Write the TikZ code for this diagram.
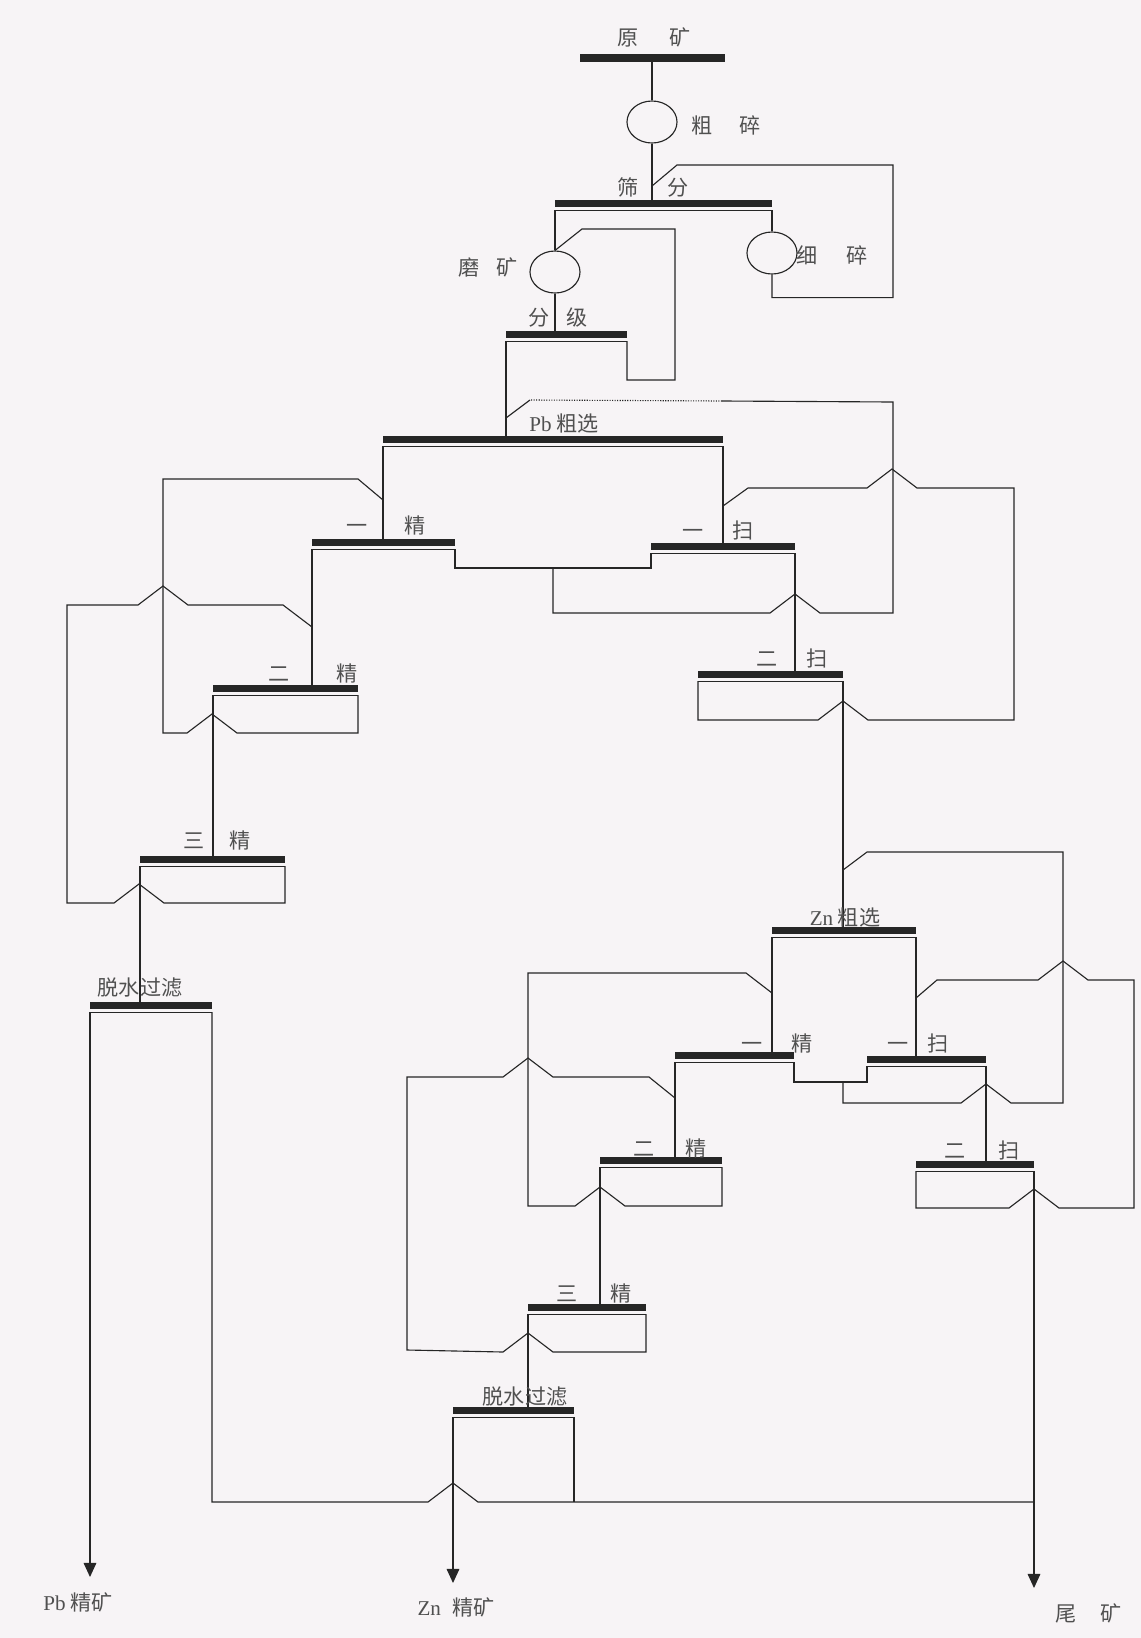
\documentclass[tikz,border=0pt]{standalone}
\usepackage{fontspec}
\setmainfont{Liberation Serif}
\newfontfamily\cjk{Noto Sans CJK SC}
\usetikzlibrary{arrows.meta,shapes.geometric}
\definecolor{paper}{RGB}{247,244,246}
\definecolor{ink}{RGB}{38,38,38}
\definecolor{txt}{RGB}{80,80,80}

\begin{document}
\begin{tikzpicture}[x=0.025cm,y=-0.025cm,line width=0.8pt,ink,
  lbl/.style={font=\cjk\fontsize{15}{17}\selectfont,text=txt,inner sep=0pt},
  mill/.style={draw,ellipse,minimum width=1.25cm,minimum height=1.05cm,inner sep=0pt},
  flow/.style={-{Triangle[width=9pt,length=10pt]}},
  hop/.style={insert path={-- ++(25,-19) -- ++(25,19)}},
  hopl/.style={insert path={-- ++(-25,-19) -- ++(-25,19)}},
  cellbar/.style={fill=ink,draw=none}]

  % Page
  \fill[paper] (0,0) rectangle (1141,1638);
  \useasboundingbox (0,0) rectangle (1141,1638);

  % Ore bin
  \fill[cellbar] (580,54) rectangle (725,62);
  \coordinate (ore-b) at (652,62);

  % Bars: name/left/right/top
  \foreach \n/\xa/\xb/\y in {scr/555/772/200, cls/506/627/331,
      pbr/383/723/436, pc1/312/455/539, ps1/651/795/543,
      pc2/213/358/685, ps2/698/843/671, pc3/140/285/856, pdw/90/212/1002,
      zr/772/916/927, zc1/675/794/1052, zs1/867/986/1056,
      zc2/600/722/1157, zs2/916/1034/1161, zc3/528/646/1304, zdw/453/574/1407}{
    \fill[cellbar] (\xa,\y) rectangle (\xb,\y+7);
    \draw[line width=0.6pt] (\xa,\y+10) -- (\xb,\y+10);
    \coordinate (\n-l) at (\xa,\y+10);
    \coordinate (\n-r) at (\xb,\y+10);
    \coordinate (\n-t) at (\xa,\y);
  }

  % Crushers and mill
  \node[mill] (cc) at (652,122) {};
  \node[mill] (fc) at (772,253) {};
  \node[mill] (gm) at (555,272) {};

  % Junctions
  \coordinate (pfeed) at (506,418);
  \coordinate (j1) at (553,568);
  \coordinate (pc1feed) at (383,500);
  \coordinate (pc2feed) at (312,627);
  \coordinate (ps1feed) at (723,506);
  \coordinate (zfeed) at (843,870);
  \coordinate (zj) at (843,1082);
  \coordinate (zc1feed) at (772,993);
  \coordinate (zs1feed) at (916,998);
  \coordinate (zc2feed) at (675,1098);
  \coordinate (tl) at (1034,1502);
  \coordinate (pb-end) at (90,1577);
  \coordinate (zn-end) at (453,1583);
  \coordinate (tl-end) at (1034,1588);

  % Crushing and grinding
  \draw (ore-b) -- (cc.north);
  \draw (cc.south) -- (cc.south |- scr-t);
  \draw (scr-r) -- (fc.north);
  \draw (fc.south) -- ++(0,23) -| (893,165) -- (677,165) -- (652,186);
  \draw (scr-l) -- (gm.north);
  \draw (gm.south) -- (gm.south |- cls-t);
  \draw (cls-r) -- (627,380) -- (675,380) -- (675,229) -- (582,229) -- (gm.north);
  \draw (cls-l) -- (cls-l |- pbr-t);

  % Pb rougher
  \draw (pbr-l) -- (pbr-l |- pc1-t);
  \draw (pbr-r) -- (pbr-r |- ps1-t);
  \draw (pc1-r) |- (ps1-l |- j1) -- (ps1-l);
  \draw (j1) -- (553,613) -- (770,613) [hop] -- (893,613) -- (893,402) -- (722,401);
  \draw[densely dotted] (722,401) -- (530,400);
  \draw (530,400) -- (pfeed);

  % Pb cleaners
  \draw (pc1-l) -- (pc1-l |- pc2-t);
  \draw (pc2-l) -- (pc2-l |- pc3-t);
  \draw (pc3-l) -- (pc3-l |- pdw-t);
  \draw (pc2-r) -- (358,733) -- (237,733) [hopl] -- (163,733) -- (163,479) -- (358,479) -- (pc1feed);
  \draw (pc3-r) -- (285,903) -- (164,903) [hopl] -- (67,903) -- (67,605) -- (138,605) [hop] -- (283,605) -- (pc2feed);

  % Pb scavengers
  \draw (ps1-r) -- (ps1-r |- ps2-t);
  \draw (ps2-l) -- (698,720) -- (818,720) [hop] -- (1014,720) -- (1014,488) -- (917,488) [hopl] -- (748,488) -- (ps1feed);
  \draw (ps2-r) -- (ps2-r |- zr-t);

  % Pb concentrate
  \draw[flow] (pdw-l) -- (pb-end);
  \draw (pdw-r) |- (428,1502) [hop] -- (tl);

  % Zn rougher
  \draw (zr-l) -- (zr-l |- zc1-t);
  \draw (zr-r) -- (zr-r |- zs1-t);
  \draw (zc1-r) |- (zs1-l |- zj) -- (zs1-l);
  \draw (zj) -- (843,1103) -- (961,1103) [hop] -- (1063,1103) -- (1063,852) -- (867,852) -- (zfeed);

  % Zn scavengers
  \draw (zs1-r) -- (zs1-r |- zs2-t);
  \draw (zs2-l) -- (916,1208) -- (1009,1208) [hop] -- (1134,1208) -- (1134,980) -- (1088,980) [hopl] -- (937,980) -- (zs1feed);
  \draw[flow] (zs2-r) -- (tl-end);

  % Zn cleaners
  \draw (zc1-l) -- (zc1-l |- zc2-t);
  \draw (zc2-l) -- (zc2-l |- zc3-t);
  \draw (zc3-l) -- (zc3-l |- zdw-t);
  \draw (zc2-r) -- (722,1206) -- (625,1206) [hopl] -- (528,1206) -- (528,973) -- (746,973) -- (zc1feed);
  \draw (zc3-r) -- (646,1352) -- (553,1352) [hopl] -- (407,1350) -- (407,1077) -- (503,1077) [hop] -- (649,1077) -- (zc2feed);

  % Zn concentrate
  \draw[flow] (zdw-l) -- (zn-end);
  \draw (zdw-r) -- (zdw-r |- tl);

  % Labels
  \node[lbl] (l-ore) at (654,37) {原\hspace{22pt}矿};
  \node[lbl] (l-cc) at (726,125) {粗\hspace{19pt}碎};
  \node[lbl] (l-scr) at (653,187) {筛\hspace{21pt}分};
  \node[lbl] (l-fc) at (832,255) {细\hspace{20pt}碎};
  \node[lbl] (l-gm) at (488,267) {磨\hspace{12pt}矿};
  \node[lbl] (l-cls) at (558,317) {分\hspace{12pt}级};
  \node[lbl] (l-pbr) at (564,423) {\textrm{Pb} 粗选};
  \node[lbl] (l-pc1) at (386,525) {一\hspace{26pt}精};
  \node[lbl] (l-ps1) at (718,530) {一\hspace{21pt}扫};
  \node[lbl] (l-pc2) at (313,673) {二\hspace{33pt}精};
  \node[lbl] (l-ps2) at (792,658) {二\hspace{21pt}扫};
  \node[lbl] (l-pc3) at (217,840) {三\hspace{18pt}精};
  \node[lbl] (l-pdw) at (140,988) {脱水过滤};
  \node[lbl] (l-zr) at (845,917) {\textrm{Zn} 粗选};
  \node[lbl] (l-zc1) at (777,1043) {一\hspace{21pt}精};
  \node[lbl] (l-zs1) at (918,1043) {一\hspace{13pt}扫};
  \node[lbl] (l-zc2) at (670,1148) {二\hspace{22pt}精};
  \node[lbl] (l-zs2) at (982,1150) {二\hspace{23pt}扫};
  \node[lbl] (l-zc3) at (594,1293) {三\hspace{24pt}精};
  \node[lbl] (l-zdw) at (525,1397) {脱水过滤};
  \node[lbl] (l-pbc) at (78,1602) {\textrm{Pb} 精矿};
  \node[lbl] (l-znc) at (456,1607) {\textrm{Zn}\hspace{8pt}精矿};
  \node[lbl] (l-tl) at (1089,1613) {尾\hspace{17pt}矿};

\end{tikzpicture}
\end{document}
